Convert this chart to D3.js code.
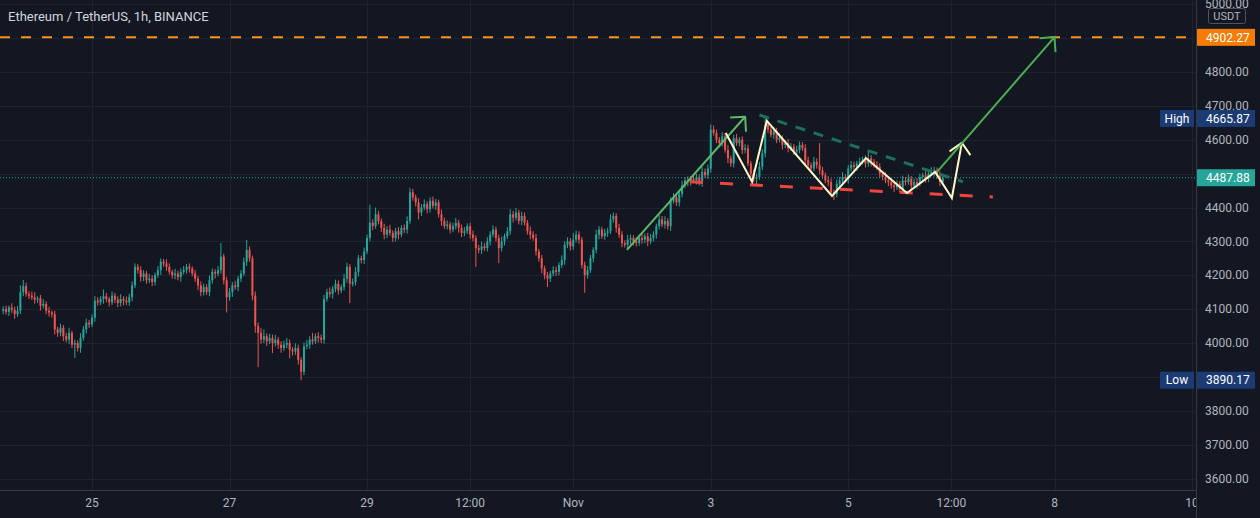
<!DOCTYPE html>
<html>
<head>
<meta charset="utf-8">
<script src="https://cdn.jsdelivr.net/npm/d3@7"></script>
<style>
  html, body { margin: 0; padding: 0; background: #131722; overflow: hidden; }
  svg { display: block; font-family: Roboto, "Liberation Sans", sans-serif; }
</style>
</head>
<body>
<div id="vis"></div>
<script>
/* *************************** Data ***************************** */

// Hourly candles, first one opens at this time
var firstTime = '2021-10-23T17:00';
var firstOpen = 4095;

// Close of every hourly candle (open = previous close)
var closes = [
  4100, 4092, 4105, 4098, 4085, 4095, 4150, 4168, 4145, 4140,
  4135, 4128, 4132, 4110, 4115, 4095, 4090, 4085, 4040, 4030,
  4045, 4020, 4010, 4030, 3995, 4000, 3985, 4015, 4040, 4060,
  4055, 4075, 4125, 4120, 4130, 4138, 4130, 4120, 4140, 4128,
  4118, 4130, 4125, 4120, 4135, 4170, 4225, 4215, 4195, 4205,
  4185, 4190, 4180, 4200, 4215, 4240, 4235, 4225, 4210, 4200,
  4205, 4195, 4210, 4215, 4225, 4220, 4205, 4190, 4170, 4150,
  4165, 4150, 4185, 4210, 4205, 4215, 4255, 4185, 4135, 4150,
  4170, 4165, 4190, 4205, 4240, 4275, 4250, 4140, 4050, 4030,
  4010, 4020, 4005, 4015, 4000, 4010, 3995, 3985, 3995, 4000,
  3980, 3975, 3985, 3950, 3915, 3990, 3995, 4010, 4005, 4020,
  4015, 4010, 4130, 4150, 4145, 4160, 4175, 4155, 4165, 4190,
  4225, 4175, 4180, 4210, 4250, 4245, 4270, 4310, 4355, 4345,
  4380, 4360, 4340, 4320, 4335, 4325, 4310, 4330, 4320, 4340,
  4335, 4360, 4445, 4430, 4415, 4385, 4400, 4410, 4395, 4420,
  4405, 4415, 4380, 4360, 4345, 4350, 4335, 4345, 4355, 4340,
  4325, 4330, 4345, 4320, 4310, 4280, 4275, 4285, 4280, 4300,
  4320, 4335, 4310, 4280, 4300, 4315, 4330, 4380, 4370, 4385,
  4360, 4375, 4355, 4330, 4320, 4310, 4270, 4250, 4220, 4200,
  4190, 4205, 4215, 4210, 4230, 4245, 4290, 4300, 4285, 4305,
  4320, 4305, 4230, 4200, 4215, 4250, 4275, 4320, 4335, 4315,
  4325, 4330, 4365, 4375, 4340, 4320, 4295, 4290, 4305, 4310,
  4300, 4295, 4310, 4305, 4315, 4300, 4310, 4320, 4345, 4365,
  4350, 4360, 4345, 4420, 4430, 4415, 4440, 4465, 4480, 4475,
  4485, 4480, 4490, 4475, 4505, 4495, 4515, 4630, 4620, 4600,
  4590, 4610, 4570, 4545, 4530, 4605, 4590, 4600, 4570, 4575,
  4530, 4500, 4485, 4490, 4520, 4560, 4645, 4630, 4615, 4625,
  4600, 4605, 4585, 4590, 4575, 4580, 4565, 4570, 4585, 4575,
  4540, 4525, 4515, 4535, 4525, 4510, 4495, 4480, 4475, 4445,
  4440, 4470, 4480, 4490, 4485, 4515, 4525, 4520, 4530, 4535,
  4540, 4530, 4545, 4535, 4525, 4520, 4500, 4490, 4480, 4475,
  4465, 4460, 4470, 4455, 4480, 4475, 4485, 4465, 4475, 4470,
  4490, 4495, 4485, 4500, 4505, 4510, 4495, 4475, 4487.88
];

// Wick above the body top / below the body bottom, in USDT
var upperWicks = [
  8, 10, 6, 12, 9, 14, 20, 18, 10, 8,
  12, 15, 6, 10, 14, 8, 12, 6, 10, 8,
  12, 8, 10, 15, 6, 10, 8, 14, 10, 12,
  8, 10, 14, 10, 8, 20, 10, 6, 12, 8,
  10, 14, 8, 12, 10, 12, 10, 8, 12, 10,
  8, 14, 10, 8, 12, 10, 8, 12, 10, 6,
  14, 8, 10, 12, 8, 10, 6, 10, 8, 12,
  10, 8, 14, 10, 8, 12, 40, 8, 10, 12,
  10, 14, 8, 10, 12, 29, 10, 8, 12, 10,
  15, 20, 8, 12, 10, 14, 8, 10, 12, 15,
  10, 8, 14, 10, 8, 12, 14, 10, 20, 8,
  12, 10, 12, 10, 14, 8, 12, 10, 8, 14,
  12, 8, 10, 14, 10, 8, 12, 10, 53, 10,
  20, 10, 8, 12, 10, 14, 8, 10, 12, 8,
  10, 14, 13, 10, 8, 12, 10, 14, 8, 10,
  12, 10, 8, 14, 10, 12, 8, 10, 14, 8,
  10, 12, 8, 10, 12, 8, 10, 14, 10, 12,
  10, 12, 8, 10, 14, 8, 12, 15, 10, 14,
  8, 12, 10, 8, 14, 10, 12, 8, 10, 8,
  10, 8, 12, 10, 8, 14, 10, 12, 10, 20,
  12, 10, 8, 10, 12, 10, 8, 14, 10, 8,
  12, 10, 15, 10, 8, 12, 10, 8, 14, 10,
  8, 12, 10, 14, 8, 10, 12, 10, 8, 12,
  10, 14, 8, 10, 12, 10, 8, 14, 10, 12,
  8, 12, 10, 8, 14, 10, 12, 15, 12, 10,
  8, 12, 10, 14, 8, 10, 12, 8, 10, 12,
  10, 8, 12, 10, 14, 12, 20.87, 10, 8, 12,
  10, 14, 8, 10, 12, 10, 8, 12, 10, 8,
  12, 10, 8, 14, 10, 65, 10, 8, 12, 10,
  8, 12, 10, 14, 8, 10, 12, 10, 8, 12,
  10, 14, 25, 10, 8, 12, 10, 8, 14, 10,
  8, 12, 10, 8, 14, 10, 12, 8, 10, 12,
  10, 8, 12, 10, 14, 10, 8, 12, 10
];

var lowerWicks = [
  10, 8, 12, 10, 14, 8, 10, 12, 8, 10,
  8, 12, 10, 14, 8, 10, 12, 10, 15, 12,
  10, 14, 8, 12, 10, 39, 10, 14, 8, 12,
  10, 8, 12, 10, 8, 14, 10, 12, 8, 10,
  12, 10, 14, 8, 10, 12, 8, 10, 14, 12,
  10, 8, 12, 10, 8, 14, 10, 12, 8, 10,
  12, 10, 14, 8, 10, 12, 8, 10, 14, 12,
  10, 8, 12, 10, 14, 8, 10, 12, 45, 10,
  14, 8, 12, 10, 8, 12, 10, 14, 20, 101,
  12, 10, 14, 8, 30, 10, 12, 14, 8, 10,
  25, 12, 10, 14, 24.83, 10, 8, 12, 10, 8,
  14, 10, 12, 8, 10, 14, 10, 12, 8, 10,
  12, 57, 8, 10, 14, 10, 12, 8, 10, 12,
  8, 10, 12, 14, 10, 8, 12, 10, 14, 8,
  10, 12, 8, 10, 12, 20, 10, 8, 12, 10,
  8, 12, 10, 14, 8, 10, 12, 8, 10, 14,
  12, 10, 8, 12, 10, 55, 10, 12, 8, 10,
  12, 8, 10, 44, 10, 12, 8, 10, 14, 8,
  10, 12, 8, 10, 14, 8, 12, 10, 14, 12,
  25, 10, 8, 12, 10, 8, 14, 10, 12, 10,
  8, 12, 10, 52, 10, 8, 12, 10, 14, 8,
  10, 12, 8, 10, 14, 10, 12, 8, 10, 14,
  12, 10, 8, 12, 10, 14, 8, 10, 12, 10,
  8, 12, 10, 14, 8, 10, 12, 10, 8, 12,
  10, 8, 12, 10, 14, 8, 10, 12, 8, 10,
  12, 10, 8, 14, 10, 12, 8, 10, 12, 10,
  8, 12, 10, 18, 8, 10, 12, 10, 8, 12,
  10, 8, 14, 10, 12, 8, 10, 12, 10, 8,
  14, 10, 12, 8, 10, 12, 10, 8, 12, 10,
  18, 10, 12, 8, 10, 14, 8, 10, 12, 10,
  8, 12, 10, 14, 8, 10, 12, 10, 8, 12,
  10, 14, 8, 10, 12, 10, 8, 12, 10, 14,
  8, 10, 12, 10, 8, 14, 10, 12, 8
];

// Axis ticks
var priceGrid = [3600, 3700, 3800, 3900, 4000, 4100, 4200, 4300, 4400, 4500, 4600, 4700, 4800, 4900, 5000];
var priceLabels = [3600, 3700, 3800, 4000, 4100, 4200, 4300, 4400, 4600, 4700, 4800, 5000];
var timeTicks = ['2021-10-25T00:00', '2021-10-27T00:00', '2021-10-29T00:00', '2021-10-30T12:00', '2021-11-01T00:00',
                 '2021-11-03T00:00', '2021-11-05T00:00', '2021-11-06T12:00', '2021-11-08T00:00', '2021-11-10T00:00'];
var timeLabels = ['25', '27', '29', '12:00', 'Nov', '3', '5', '12:00', '8', '10'];

// Target level
var targetPrice = 4902.27;

// Drawings (time, price)
var riseArrow = [['2021-11-01T18:45', 4275], ['2021-11-03T12:00', 4668]];
var targetArrow = [['2021-11-06T07:00', 4505], ['2021-11-08T00:00', 4903]];
var resistanceLine = [['2021-11-03T17:00', 4673], ['2021-11-06T16:00', 4476]];
var supportLine = [['2021-11-02T16:45', 4476], ['2021-11-07T02:30', 4431]];
var zigzag = [
  ['2021-11-03T05:15', 4620], ['2021-11-03T14:25', 4476], ['2021-11-03T19:35', 4656],
  ['2021-11-04T18:20', 4434], ['2021-11-05T06:10', 4546], ['2021-11-05T20:30', 4443],
  ['2021-11-06T06:20', 4505], ['2021-11-06T12:10', 4428], ['2021-11-06T15:40', 4591]
];

/* *************************** Settings ***************************** */
var width = 1260;
var height = 518;
var plotWidth = 1196;
var plotHeight = 490;

var upColor = '#26a69a';
var downColor = '#ef5350';
var bg = '#131722';
var gridColor = '#1f2330';
var textColor = '#b2b5be';

var parseTime = d3.timeParse('%Y-%m-%dT%H:%M');

var x = d3.scaleTime()
    .domain([parseTime('2021-10-25T00:00'), parseTime('2021-11-08T00:00')])
    .range([92, 1054.5]);

var y = d3.scaleLinear()
    .domain([4000, 4800])
    .range([343, 72]);

var t0 = parseTime(firstTime);
var candles = closes.map(function(c, i) {
    var o = i === 0 ? firstOpen : closes[i - 1];
    return {
        t: d3.timeHour.offset(t0, i),
        o: o,
        c: c,
        h: Math.max(o, c) + upperWicks[i],
        l: Math.min(o, c) - lowerWicks[i]
    };
});

var svg = d3.select('#vis').append('svg')
    .attr('width', width)
    .attr('height', height);

svg.append('rect').attr('width', width).attr('height', height).attr('fill', bg);

var defs = svg.append('defs');
defs.append('clipPath').attr('id', 'plot')
    .append('rect').attr('width', plotWidth).attr('height', plotHeight);
defs.append('clipPath').attr('id', 'bottom')
    .append('rect').attr('width', plotWidth).attr('height', height);

/* *************************** Grid ***************************** */
var grid = svg.append('g');

grid.selectAll('.hgrid').data(priceGrid).enter().append('line')
    .attr('x1', 0).attr('x2', plotWidth)
    .attr('y1', function(d) { return Math.round(y(d)) + 0.5; })
    .attr('y2', function(d) { return Math.round(y(d)) + 0.5; })
    .attr('stroke', gridColor);

grid.selectAll('.vgrid').data(timeTicks).enter().append('line')
    .attr('x1', function(d) { return Math.round(x(parseTime(d))) + 0.5; })
    .attr('x2', function(d) { return Math.round(x(parseTime(d))) + 0.5; })
    .attr('y1', 0).attr('y2', plotHeight)
    .attr('stroke', gridColor);

/* *************************** Candles ***************************** */
var plot = svg.append('g').attr('clip-path', 'url(#plot)');

var candle = plot.selectAll('.candle').data(candles).enter().append('g')
    .attr('fill', function(d) { return d.c >= d.o ? upColor : downColor; })
    .attr('stroke', function(d) { return d.c >= d.o ? upColor : downColor; });

candle.append('line')
    .attr('x1', function(d) { return x(d.t); })
    .attr('x2', function(d) { return x(d.t); })
    .attr('y1', function(d) { return y(d.h); })
    .attr('y2', function(d) { return y(d.l); })
    .attr('stroke-width', 1);

candle.append('rect')
    .attr('x', function(d) { return x(d.t) - 1; })
    .attr('width', 2)
    .attr('y', function(d) { return y(Math.max(d.o, d.c)); })
    .attr('height', function(d) { return Math.max(1, Math.abs(y(d.o) - y(d.c))); })
    .attr('stroke', 'none');

/* *************************** Price lines ***************************** */
var last = candles[candles.length - 1];

plot.append('line')
    .attr('x1', 0).attr('x2', plotWidth)
    .attr('y1', y(last.c)).attr('y2', y(last.c))
    .attr('stroke', upColor).attr('stroke-width', 1)
    .attr('stroke-dasharray', '1,2');

plot.append('line')
    .attr('x1', 0).attr('x2', plotWidth)
    .attr('y1', y(targetPrice)).attr('y2', y(targetPrice))
    .attr('stroke', '#f7931e').attr('stroke-width', 2)
    .attr('stroke-dasharray', '10,11');

/* *************************** Drawings ***************************** */
var toPx = function(p) { return [x(parseTime(p[0])), y(p[1])]; };
var line = d3.line();

// open arrow head at the last point of a path
var arrowHead = function(pts, len) {
    var a = pts[pts.length - 2], b = pts[pts.length - 1];
    var back = Math.atan2(a[1] - b[1], a[0] - b[0]);
    return [
        [b[0] + len * Math.cos(back - Math.PI / 4), b[1] + len * Math.sin(back - Math.PI / 4)],
        b,
        [b[0] + len * Math.cos(back + Math.PI / 4), b[1] + len * Math.sin(back + Math.PI / 4)]
    ];
};

var drawPath = function(data, color, w, dash, head) {
    var pts = data.map(toPx);
    plot.append('path').attr('d', line(pts))
        .attr('fill', 'none').attr('stroke', color).attr('stroke-width', w)
        .attr('stroke-dasharray', dash || null);
    if (head) {
        plot.append('path').attr('d', line(arrowHead(pts, head)))
            .attr('fill', 'none').attr('stroke', color).attr('stroke-width', w)
            .attr('stroke-linejoin', 'round');
    }
};

drawPath(resistanceLine, '#1f6f5c', 3, '10,9');
drawPath(supportLine, '#f0453f', 3, '13,17');
drawPath(riseArrow, '#5fb86a', 2, null, 15);
drawPath(zigzag, '#fff8c8', 2, null, 15);
drawPath(targetArrow, '#4caf50', 2, null, 15);

/* *************************** Axes ***************************** */
// time labels, the last one is cut by the price panel
svg.append('g').selectAll('text').data(timeTicks).enter().append('text')
    .attr('x', function(d) { return x(parseTime(d)); })
    .attr('y', 503).attr('dy', '0.35em')
    .attr('text-anchor', 'middle')
    .attr('fill', textColor).attr('font-size', 12)
    .attr('clip-path', 'url(#bottom)')
    .text(function(d, i) { return timeLabels[i]; });

// right price panel
svg.append('line').attr('x1', plotWidth + 0.5).attr('x2', plotWidth + 0.5)
    .attr('y1', 0).attr('y2', height).attr('stroke', '#363a45');
svg.append('line').attr('x1', 0).attr('x2', plotWidth)
    .attr('y1', plotHeight + 0.5).attr('y2', plotHeight + 0.5).attr('stroke', '#363a45');

svg.append('g').selectAll('text').data(priceLabels).enter().append('text')
    .attr('x', 1205).attr('y', function(d) { return y(d); })
    .attr('dy', '0.35em')
    .attr('fill', textColor).attr('font-size', 12)
    .text(function(d) { return d3.format('.2f')(d); });

/* *************************** Price labels ***************************** */
var tag = function(value, color, yPos, name) {
    var g = svg.append('g');
    g.append('rect').attr('x', plotWidth + 1).attr('y', yPos - 8.5)
        .attr('width', 58).attr('height', 17).attr('fill', color);
    g.append('text').attr('x', 1206).attr('y', yPos).attr('dy', '0.35em')
        .attr('fill', '#ffffff').attr('font-size', 12)
        .text(d3.format('.2f')(value));
    if (name) {
        g.append('rect').attr('x', 1160).attr('y', yPos - 8.5)
            .attr('width', 34).attr('height', 17).attr('fill', color);
        g.append('text').attr('x', 1177).attr('y', yPos).attr('dy', '0.35em')
            .attr('text-anchor', 'middle')
            .attr('fill', '#ffffff').attr('font-size', 12)
            .text(name);
    }
};

var highVal = d3.max(candles, function(d) { return d.h; });
var lowVal = d3.min(candles, function(d) { return d.l; });

tag(targetPrice, '#f57c00', y(targetPrice));
tag(highVal, '#1c3a73', y(highVal) + 1, 'High');
tag(last.c, upColor, y(last.c));
tag(lowVal, '#1c3a73', y(lowVal), 'Low');

// currency box
svg.append('rect').attr('x', 1208.5).attr('y', 8.5).attr('width', 37).attr('height', 15)
    .attr('fill', bg).attr('stroke', '#50535e').attr('rx', 2);
svg.append('text').attr('x', 1227).attr('y', 16).attr('dy', '0.35em')
    .attr('text-anchor', 'middle').attr('fill', textColor).attr('font-size', 11)
    .text('USDT');

/* *************************** Title ***************************** */
svg.append('text').attr('x', 8).attr('y', 16).attr('dy', '0.35em')
    .attr('fill', '#d1d4dc').attr('font-size', 13)
    .text('Ethereum / TetherUS, 1h, BINANCE');
</script>
</body>
</html>
